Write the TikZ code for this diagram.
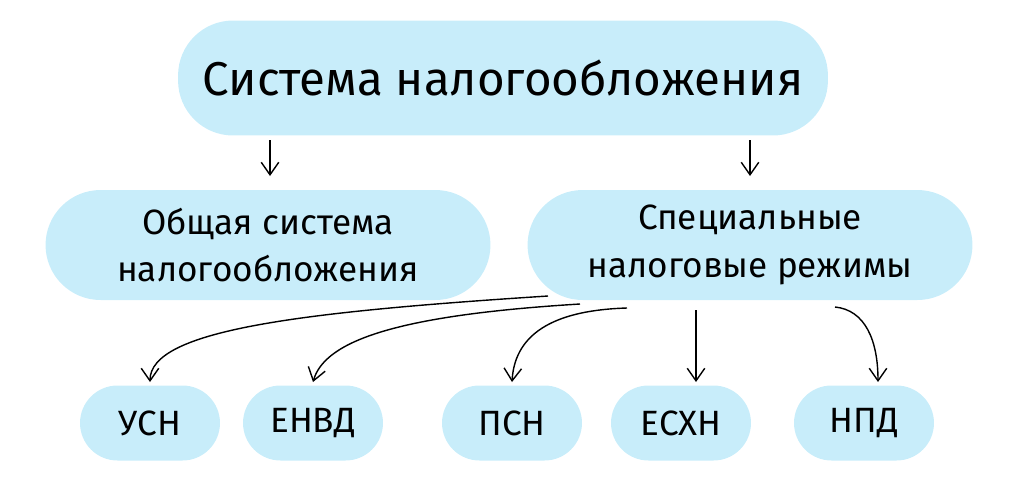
\documentclass[tikz,border=0pt]{standalone}
\usepackage{fontspec}
\setmainfont{Fira Sans}
\usetikzlibrary{arrows.meta}
\definecolor{blobblue}{HTML}{C8EDFA}
\begin{document}
\begin{tikzpicture}
    [
    x=0.02cm,y=-0.02cm,
    blob/.style={fill=blobblue,rounded corners=1.1cm,align=center,inner sep=0pt},
    bigblob/.style={blob,minimum width=13cm,minimum height=2.3cm,font=\fontsize{27}{32}\selectfont},
    midblob/.style={blob,minimum width=8.9cm,minimum height=2.2cm,font=\fontsize{20}{27}\selectfont},
    smallblob/.style={blob,rounded corners=0.75cm,minimum width=2.8cm,minimum height=1.5cm,font=\fontsize{20}{24}\selectfont},
    link/.style={thick,-{Straight Barb[length=2.5mm,width=3.5mm]}}
    ]
    \useasboundingbox (0,0) rectangle (1024,478);
    \node (sys) at (503,78) [bigblob] {Система налогообложения};
    \node (common) at (268,245) [midblob] {Общая система\\налогообложения};
    \node (spec) at (750,245) [midblob] {Специальные\\налоговые режимы};
    \node (usn) at (150,423) [smallblob] {УСН};
    \node (envd) at (313,423) [smallblob] {ЕНВД};
    \node (psn) at (512,423) [smallblob] {ПСН};
    \node (eshn) at (681,423) [smallblob] {ЕСХН};
    \node (npd) at (864,423) [smallblob] {НПД};
    % free ends under the top and right blobs
    \coordinate (s1) at (270,140);
    \coordinate (s2) at (750,140);
    \coordinate (t1) at (548,296);
    \coordinate (t2) at (580,304);
    \coordinate (t3) at (627,308);
    \coordinate (t4) at (696,310);
    \coordinate (t5) at (835,307);
    \draw [link] (s1) -- (270,176);
    \draw [link] (s2) -- (750,176);
    \draw [link] (t1) .. controls (300,312) and (150,330) .. (usn.north|-0,382);
    \draw [link] (t2) .. controls (400,315) and (325,340) .. (envd.north|-0,382);
    \draw [link] (t3) .. controls (560,310) and (515,330) .. (psn.north|-0,382);
    \draw [link] (t4) -- (696,382);
    \draw [link] (t5) .. controls (865,310) and (878,340) .. (878,382);
\end{tikzpicture}
\end{document}
